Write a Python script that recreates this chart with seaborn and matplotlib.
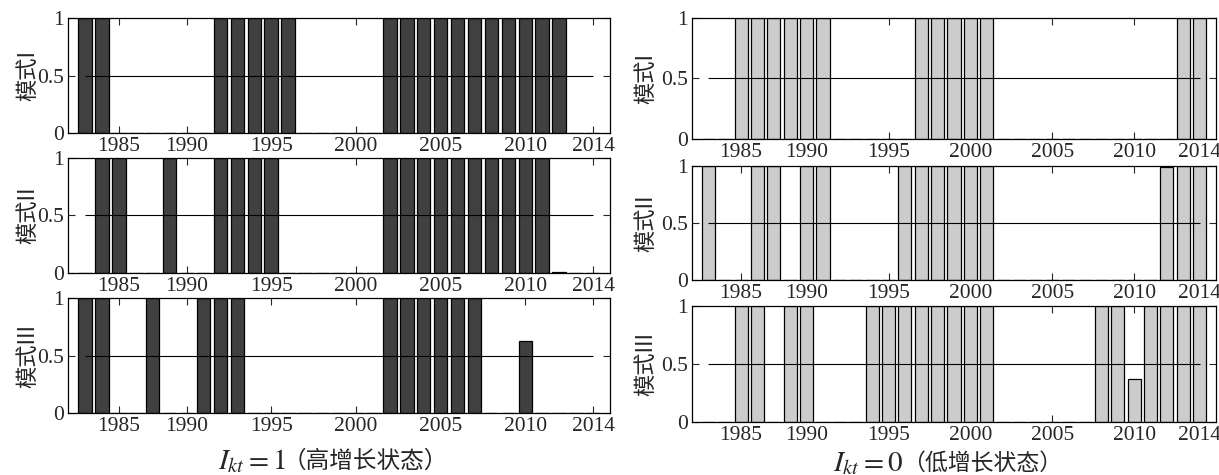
import matplotlib
matplotlib.use('Agg')
import matplotlib.pyplot as plt
import seaborn as sns
import pandas as pd

# years on the x axis (31 bars)
years = list(range(1984, 2015))
tick_pos = [1986, 1990, 1995, 2000, 2005, 2010, 2014]
tick_labels = ['1985', '1990', '1995', '2000', '2005', '2010', '2014']

# I_kt = 1 (high growth)
high_m1 = [1, 1, 0, 0, 0, 0, 0, 0, 1, 1, 1, 1, 1, 0, 0, 0, 0, 0,
           1, 1, 1, 1, 1, 1, 1, 1, 1, 1, 1, 0, 0]
high_m2 = [0, 1, 1, 0, 0, 1, 0, 0, 1, 1, 1, 1, 0, 0, 0, 0, 0, 0,
           1, 1, 1, 1, 1, 1, 1, 1, 1, 1, 0.01, 0, 0]
high_m3 = [1, 1, 0, 0, 1, 0, 0, 1, 1, 1, 0, 0, 0, 0, 0, 0, 0, 0,
           1, 1, 1, 1, 1, 1, 0, 0, 0.63, 0, 0, 0, 0]

# I_kt = 0 (low growth)
low_m1 = [0, 0, 1, 1, 1, 1, 1, 1, 0, 0, 0, 0, 0, 1, 1, 1, 1, 1,
          0, 0, 0, 0, 0, 0, 0, 0, 0, 0, 0, 1, 1]
low_m2 = [1, 0, 0, 1, 1, 0, 1, 1, 0, 0, 0, 0, 1, 1, 1, 1, 1, 1,
          0, 0, 0, 0, 0, 0, 0, 0, 0, 0, 0.99, 1, 1]
low_m3 = [0, 0, 1, 1, 0, 1, 1, 0, 0, 0, 1, 1, 1, 1, 1, 1, 1, 1,
          0, 0, 0, 0, 0, 0, 1, 1, 0.37, 1, 1, 1, 1]

mode_labels = ['模式I', '模式II', '模式III']

sns.set_style('ticks')
plt.rcParams['font.family'] = ['Liberation Serif', 'Noto Sans CJK SC']
plt.rcParams['mathtext.fontset'] = 'stix'
plt.rcParams['axes.linewidth'] = 0.9


def draw(ax, vals, color, label, ylab_x):
    df = pd.DataFrame({'year': years, 'p': vals})
    sns.barplot(data=df, x='year', y='p', native_scale=True, width=0.8,
                color=color, saturation=1, edgecolor='black', linewidth=0.9,
                errorbar=None, ax=ax)
    ax.hlines(0.5, years[0], years[-1], color='black', lw=0.8, zorder=3)
    ax.set_xlim(1983, 2015)
    ax.set_ylim(0, 1)
    ax.set_xticks(tick_pos)
    ax.set_xticklabels(tick_labels)
    ax.set_yticks([0, 0.5, 1])
    ax.set_yticklabels(['0', '0.5', '1'])
    ax.tick_params(direction='in', top=True, right=True, length=5,
                   width=0.8, labelsize=15.5, pad=3)
    ax.set_xlabel('')
    ax.set_ylabel(label, fontsize=16, family=['Noto Sans CJK SC'])
    ax.yaxis.set_label_coords(ylab_x, 0.5)
    for s in ax.spines.values():
        s.set_color('black')


fig = plt.figure(figsize=(12.19, 4.75), dpi=100)

left_rects = [[0.0558, 0.720, 0.4446, 0.2421],
              [0.0558, 0.4253, 0.4446, 0.2421],
              [0.0558, 0.1305, 0.4446, 0.2421]]
right_rects = [[0.5677, 0.7074, 0.4299, 0.2547],
               [0.5677, 0.4105, 0.4299, 0.2400],
               [0.5677, 0.1116, 0.4299, 0.2442]]

for rect, vals, lab in zip(left_rects, [high_m1, high_m2, high_m3], mode_labels):
    ax = fig.add_axes(rect)
    draw(ax, vals, '#404040', lab, -0.053)

for rect, vals, lab in zip(right_rects, [low_m1, low_m2, low_m3], mode_labels):
    ax = fig.add_axes(rect)
    draw(ax, vals, '#cccccc', lab, -0.067)

fig.text(0.179, 0.012, r'$I_{kt}=1$', fontsize=21, va='baseline')
fig.text(0.232, 0.016, '（高增长状态）', fontsize=17, va='baseline')
fig.text(0.683, 0.008, r'$I_{kt}=0$', fontsize=21, va='baseline')
fig.text(0.740, 0.012, '（低增长状态）', fontsize=16.5, va='baseline')

plt.savefig('out.png', dpi=100)
